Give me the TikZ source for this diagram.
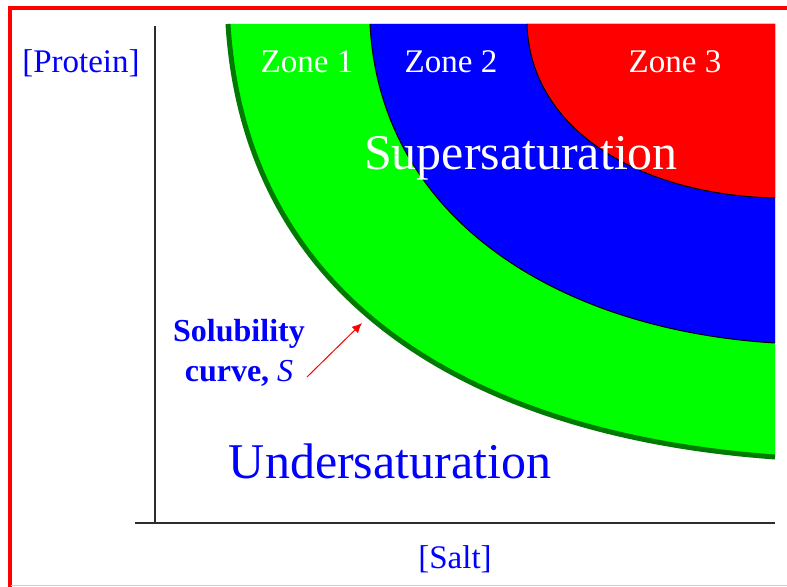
\documentclass[tikz,border=0pt]{standalone}
\usepackage{fontspec}
\setmainfont{Liberation Serif}
\usetikzlibrary{arrows.meta}
\definecolor{zonegreen}{RGB}{0,255,0}
\definecolor{zoneblue}{RGB}{0,0,255}
\definecolor{zonered}{RGB}{255,0,0}
\definecolor{curvegreen}{RGB}{0,122,0}
\definecolor{axisgray}{RGB}{45,45,45}
\definecolor{framepink}{RGB}{255,185,185}
\tikzset{
  zonelabel/.style={text=white, inner sep=0pt, anchor=base, font=\fontsize{16.5}{20}\selectfont},
  axislabel/.style={text=zoneblue, inner sep=0pt, anchor=base, font=\fontsize{16.5}{20}\selectfont},
  biglabel/.style={inner sep=0pt, anchor=base, font=\fontsize{25}{30}\selectfont},
  boundary/.style={black, line width=0.5pt}
}

\begin{document}
\begin{tikzpicture}[x=0.5pt,y=-0.5pt]
\useasboundingbox (0,0) rectangle (787,587);
\fill[zonegreen] (228,24) .. controls (245,300) and (470,435) .. (775,457) -- (775,24) -- cycle;
\fill[zoneblue] (370,24) .. controls (380,220) and (560,330) .. (775,343) -- (775,24) -- cycle;
\fill[zonered] (527,24) .. controls (530,130) and (640,195) .. (775,198) -- (775,24) -- cycle;
\draw [curvegreen, line width=2.5pt] (228,24) .. controls (245,300) and (470,435) .. (775,457);
\draw [boundary] (370,24) .. controls (380,220) and (560,330) .. (775,343);
\draw [boundary] (527,24) .. controls (530,130) and (640,195) .. (775,198);
\coordinate (origin) at (155,523);
\coordinate (ytop) at (155,26);
\coordinate (xleft) at (135,523);
\coordinate (xright) at (775,523);
\draw [axisgray, line width=1pt] (ytop) -- (origin);
\draw [axisgray, line width=1pt] (xleft) -- (xright);
\node[zonelabel] (zone1) at (307,73) {Zone 1};
\node[zonelabel] (zone2) at (451,73) {Zone 2};
\node[zonelabel] (zone3) at (675,73) {Zone 3};
\node[biglabel, text=white] (super) at (521,170) {Supersaturation};
\node[biglabel, text=zoneblue] (under) at (390,479) {Undersaturation};
\node[axislabel] (protein) at (81,73) {[Protein]};
\node[axislabel] (salt) at (455,568) {[Salt]};
\node[text=zoneblue, inner sep=0pt, anchor=base, align=center, font=\bfseries\fontsize{16}{20}\selectfont] (solcurve) at (239,382) {Solubility\\curve, {\mdseries\itshape S}};
\coordinate (tail) at (307,377);
\coordinate (tip) at (362,323);
\draw [zonered, line width=0.5pt, -{Latex[length=5pt,width=4.5pt]}] (tail) -- (tip);
\draw [zonered, line width=2pt] (10,587) -- (10,8) -- (787,8);
\draw [framepink, line width=0.75pt] (11,585.5) -- (787,585.5);
\end{tikzpicture}
\end{document}
